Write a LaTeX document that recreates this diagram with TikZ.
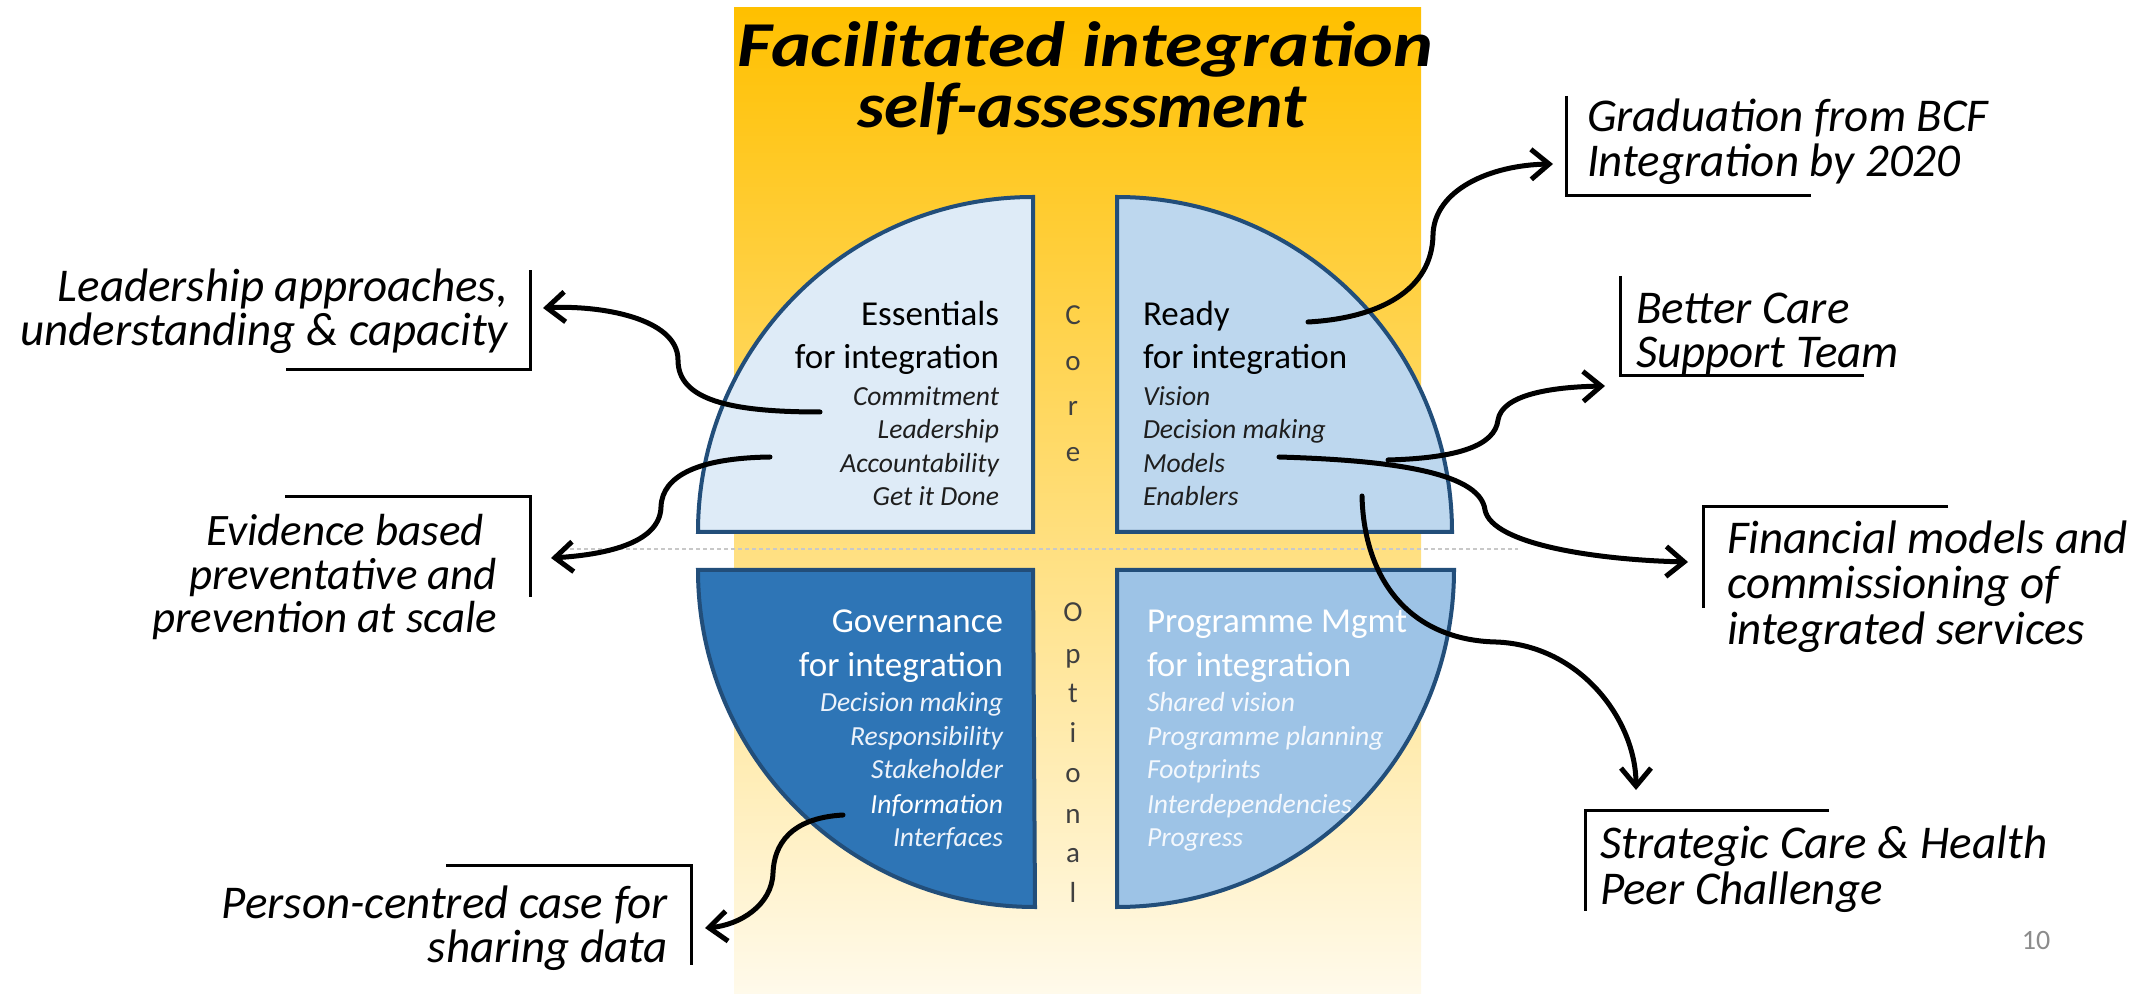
\documentclass[tikz,border=0pt]{standalone}
\usepackage{fontspec}
\usepackage{graphicx}
\setmainfont{Carlito}
\usetikzlibrary{arrows.meta}
\definecolor{ytop}{RGB}{255,192,0}
\definecolor{ybot}{RGB}{255,250,235}
\definecolor{qborder}{RGB}{34,78,122}
\definecolor{qtl}{RGB}{222,235,247}
\definecolor{qtr}{RGB}{189,215,238}
\definecolor{qbl}{RGB}{46,117,182}
\definecolor{qbr}{RGB}{157,195,230}
\definecolor{dtext}{RGB}{30,30,30}
\definecolor{coretext}{RGB}{64,64,64}
\definecolor{pgnum}{RGB}{140,140,140}
\definecolor{dashgray}{RGB}{200,200,200}
\definecolor{bltext}{RGB}{236,242,250}
\definecolor{brtext}{RGB}{244,248,253}
\begin{document}
\begin{tikzpicture}[x=0.5pt,y=-0.5pt,
  every node/.style={inner sep=0pt,outer sep=0pt},
  quad/.style={draw=qborder,line width=2pt,line join=miter},
  hdr/.style={font=\fontsize{17.5}{21}\selectfont},
  itm/.style={font=\fontsize{13.8}{16}\selectfont\itshape},
  call/.style={font=\fontsize{23.5}{26}\selectfont\itshape},
  ttl/.style={font=\fontsize{32}{36}\selectfont\bfseries\itshape,anchor=base},
  vlet/.style={font=\fontsize{14.5}{16}\selectfont,text=coretext,anchor=base},
  brk/.style={line width=1.5pt},
  conn/.style={line width=2.5pt,line cap=round,-{Straight Barb[length=9pt,width=15pt]}}]
\useasboundingbox (0,0) rectangle (2154,994);
\fill[white] (0,0) rectangle (2154,994);
% background band
\shade[top color=ytop,bottom color=ybot] (734,8) rectangle (1421,994);
% dashed divider
\draw[dashgray,line width=0.8pt,dash pattern=on 2pt off 1.5pt] (563,549) -- (1518,549);
% title
\node[ttl] (title1) at (1085,67) {\scalebox{1.18}[1]{Facilitated integration}};
\node[ttl] (title2) at (1082,128) {\scalebox{1.08}[1]{self-assessment}};
% quadrants
\draw[quad,fill=qtl] (1033,532) -- (698,532) arc[start angle=180,end angle=90,radius=167.5pt] -- cycle;
\draw[quad,fill=qtr] (1117,532) -- (1117,197) arc[start angle=90,end angle=0,radius=167.5pt] -- cycle;
\draw[quad,fill=qbl] (1033,570) -- (698,570) arc[start angle=180,end angle=270,radius=168.5pt] -- cycle;
\draw[quad,fill=qbr] (1117,570) -- (1117,907) arc[start angle=270,end angle=360,radius=168.5pt] -- cycle;
% top-left text
\node[hdr,anchor=mid east] (tl1) at (999,321) {Essentials};
\node[hdr,anchor=mid east] (tl2) at (999,364) {for integration};
\node[itm,text=dtext,anchor=mid east] (tl3) at (999,401) {Commitment};
\node[itm,text=dtext,anchor=mid east] (tl4) at (999,434) {Leadership};
\node[itm,text=dtext,anchor=mid east] (tl5) at (999,468) {Accountability};
\node[itm,text=dtext,anchor=mid east] (tl6) at (999,501) {Get it Done};
% top-right text
\node[hdr,anchor=mid west] (tr1) at (1143,321) {Ready};
\node[hdr,anchor=mid west] (tr2) at (1143,364) {for integration};
\node[itm,text=dtext,anchor=mid west] (tr3) at (1143,401) {Vision};
\node[itm,text=dtext,anchor=mid west] (tr4) at (1143,434) {Decision making};
\node[itm,text=dtext,anchor=mid west] (tr5) at (1143,468) {Models};
\node[itm,text=dtext,anchor=mid west] (tr6) at (1143,501) {Enablers};
% bottom-left text
\node[hdr,text=white,anchor=mid east] (bl1) at (1003,628) {Governance};
\node[hdr,text=white,anchor=mid east] (bl2) at (1003,672) {for integration};
\node[itm,text=bltext,anchor=mid east] (bl3) at (1003,707) {Decision making};
\node[itm,text=bltext,anchor=mid east] (bl4) at (1003,741) {Responsibility};
\node[itm,text=bltext,anchor=mid east] (bl5) at (1003,774) {Stakeholder};
\node[itm,text=white,anchor=mid east] (bl6) at (1003,809) {Information};
\node[itm,text=bltext,anchor=mid east] (bl7) at (1003,842) {Interfaces};
% bottom-right text
\node[hdr,text=white,anchor=mid west] (br1) at (1147,628) {Programme Mgmt};
\node[hdr,text=white,anchor=mid west] (br2) at (1147,672) {for integration};
\node[itm,text=brtext,anchor=mid west] (br3) at (1147,707) {Shared vision};
\node[itm,text=brtext,anchor=mid west] (br4) at (1147,741) {Programme planning};
\node[itm,text=brtext,anchor=mid west] (br5) at (1147,774) {Footprints};
\node[itm,text=brtext,anchor=mid west] (br6) at (1147,809) {Interdependencies};
\node[itm,text=brtext,anchor=mid west] (br7) at (1147,842) {Progress};
% Core / Optional
\node[vlet] (c1) at (1073,325) {C};
\node[vlet] (c2) at (1073,371) {o};
\node[vlet] (c3) at (1073,416) {r};
\node[vlet] (c4) at (1073,462) {e};
\node[vlet] (o1) at (1073,622) {O};
\node[vlet] (o2) at (1073,663) {p};
\node[vlet] (o3) at (1073,702) {t};
\node[vlet] (o4) at (1073,742) {i};
\node[vlet] (o5) at (1073,782) {o};
\node[vlet] (o6) at (1073,823) {n};
\node[vlet] (o7) at (1073,862) {a};
\node[vlet] (o8) at (1073,902) {l};
% page number
\node[font=\fontsize{14}{16}\selectfont,text=pgnum,anchor=mid] (pg) at (2036,945) {10};
% callout texts
\node[call,anchor=mid east] (k1a) at (508,297) {Leadership approaches,};
\node[call,anchor=mid east] (k1b) at (508,341) {understanding \& capacity};
\node[call,anchor=mid east,font=\fontsize{22.5}{25}\selectfont\itshape] (k2a) at (484,541) {Evidence based};
\node[call,anchor=mid east,font=\fontsize{22.5}{25}\selectfont\itshape] (k2b) at (497,585) {preventative and};
\node[call,anchor=mid east,font=\fontsize{22.5}{25}\selectfont\itshape] (k2c) at (497,628) {prevention at scale};
\node[call,anchor=mid east] (k3a) at (668,914) {Person-centred case for};
\node[call,anchor=mid east] (k3b) at (668,958) {sharing data};
\node[call,anchor=mid west] (k4a) at (1587,127) {Graduation from BCF};
\node[call,anchor=mid west] (k4b) at (1587,172) {Integration by 2020};
\node[call,anchor=mid west] (k5a) at (1636,319) {Better Care};
\node[call,anchor=mid west] (k5b) at (1636,363) {Support Team};
\node[call,anchor=mid west] (k6a) at (1727,549) {Financial models and};
\node[call,anchor=mid west] (k6b) at (1727,594) {commissioning of};
\node[call,anchor=mid west] (k6c) at (1727,640) {integrated services};
\node[call,anchor=mid west] (k7a) at (1600,854) {Strategic Care \& Health};
\node[call,anchor=mid west] (k7b) at (1600,900) {Peer Challenge};
% brackets
\draw[brk] (286,370) -- (530,370) -- (530,270);
\draw[brk] (285,497) -- (530,497) -- (530,597);
\draw[brk] (446,865) -- (691,865) -- (691,965);
\draw[brk] (1566,96) -- (1566,196) -- (1811,196);
\draw[brk] (1620,276) -- (1620,376) -- (1864,376);
\draw[brk] (1948,507) -- (1703,507) -- (1703,608);
\draw[brk] (1829,810) -- (1585,810) -- (1585,911);
% connector end points
\coordinate (a1s) at (820,412); \coordinate (a1m) at (678,360); \coordinate (a1e) at (543,308);
\coordinate (a2s) at (770,457); \coordinate (a2m) at (661,507); \coordinate (a2e) at (551,558);
\coordinate (a3s) at (843,815); \coordinate (a3m) at (773,873); \coordinate (a3e) at (705,928);
\coordinate (a4s) at (1308,322); \coordinate (a4m) at (1433,235); \coordinate (a4e) at (1553,164);
\coordinate (a5s) at (1388,460); \coordinate (a5m) at (1498,420); \coordinate (a5e) at (1605,386);
\coordinate (a6s) at (1279,457); \coordinate (a6m) at (1485,510); \coordinate (a6e) at (1688,562);
\coordinate (a7s) at (1362,496); \coordinate (a7m) at (1496,642); \coordinate (a7e) at (1636,790);
% connectors
\draw[conn] (a1s) .. controls (730,412) and (678,400) .. (a1m) .. controls (678,318) and (600,305) .. (a1e);
\draw[conn] (a2s) .. controls (700,458) and (662,475) .. (a2m) .. controls (660,545) and (600,555) .. (a2e);
\draw[conn] (a3s) .. controls (790,818) and (774,845) .. (a3m) .. controls (772,905) and (740,925) .. (a3e);
\draw[conn] (a4s) .. controls (1380,318) and (1432,290) .. (a4m) .. controls (1434,190) and (1490,165) .. (a4e);
\draw[conn] (a5s) .. controls (1460,458) and (1495,445) .. (a5m) .. controls (1502,395) and (1550,387) .. (a5e);
\draw[conn] (a6s) .. controls (1380,460) and (1480,470) .. (a6m) .. controls (1492,545) and (1600,560) .. (a6e);
\draw[conn] (a7s) .. controls (1364,580) and (1410,640) .. (a7m) .. controls (1580,645) and (1636,720) .. (a7e);
\end{tikzpicture}
\end{document}
